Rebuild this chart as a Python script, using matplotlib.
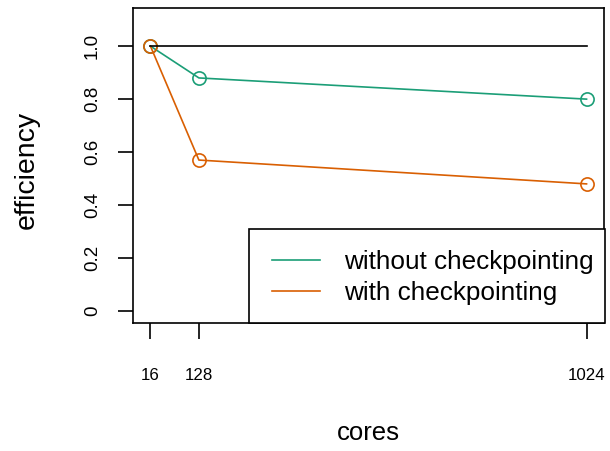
import matplotlib
matplotlib.use("Agg")
import matplotlib.pyplot as plt
from matplotlib.patches import Rectangle
from matplotlib.lines import Line2D

plt.rcParams['font.family'] = ['Liberation Sans', 'DejaVu Sans']

cores = [16, 128, 1024]
eff_without = [1.0, 0.88, 0.80]
eff_with = [1.0, 0.57, 0.48]
ideal = [1.0, 1.0]
ideal_x = [16, 1024]
yticks = [0, 0.2, 0.4, 0.6, 0.8, 1.0]
ytick_labels = ["0", "0.2", "0.4", "0.6", "0.8", "1.0"]
series_labels = ["without checkpointing", "with checkpointing"]

green = "#1B9E77"
orange = "#D95F02"
LW = 1.2

W, H = 610, 451
fig = plt.figure(figsize=(W / 100, H / 100), dpi=100)
l, r, t, b = 133, 604, 8, 322.7
ax = fig.add_axes([l / W, 1 - b / H, (r - l) / W, (b - t) / H])

ax.plot(cores, eff_without, color=green, lw=LW, marker='o', ms=9.5,
        mfc='none', mec=green, mew=LW)
ax.plot(cores, eff_with, color=orange, lw=LW, marker='o', ms=9.5,
        mfc='none', mec=orange, mew=LW)
ax.plot(ideal_x, ideal, color='black', lw=LW)

span = cores[-1] - cores[0]
ax.set_xlim(cores[0] - 0.04 * span, cores[-1] + 0.04 * span)
ax.set_ylim(-0.044, 1.144)

ax.set_xticks(cores)
ax.set_xticklabels([str(c) for c in cores])
ax.set_yticks(yticks)
ax.set_yticklabels(ytick_labels)

for s in ax.spines.values():
    s.set_linewidth(LW)

ax.tick_params(axis='x', direction='out', length=11.5, width=LW,
               labelsize=12.2, pad=21)
ax.tick_params(axis='y', direction='out', length=11, width=LW,
               labelsize=13.5, pad=12, labelrotation=90)
for lab in ax.get_yticklabels():
    lab.set_va('center')

ax.set_xlabel("cores", fontsize=18.5)
ax.xaxis.set_label_coords(0.5, (b - 433) / (b - t))
ax.xaxis.label.set_va('center')
ax.set_ylabel("efficiency", fontsize=20.5)
ax.yaxis.set_label_coords((27 - l) / (r - l), (b - 170) / (b - t))
ax.yaxis.label.set_va('center')

# legend box in the lower right corner, R-style spacing
def fx(px):
    return (px - l) / (r - l)

def fy(py):
    return (b - py) / (b - t)

tr = ax.transAxes
ax.add_patch(Rectangle((fx(249), fy(b)), fx(605) - fx(249), fy(229) - fy(b),
                       transform=tr, facecolor='white', edgecolor='black',
                       lw=LW, zorder=5, clip_on=False))
entries = [(green, 260, 269), (orange, 291, 300)]
for (col, ly, by), text in zip(entries, series_labels):
    ax.add_line(Line2D([fx(272), fx(320)], [fy(ly), fy(ly)], transform=tr,
                       color=col, lw=LW, zorder=6, clip_on=False))
    ax.text(fx(344), fy(by), text, transform=tr, fontsize=18.8,
            ha='left', va='baseline', zorder=6)

fig.savefig("out.png", dpi=100)
